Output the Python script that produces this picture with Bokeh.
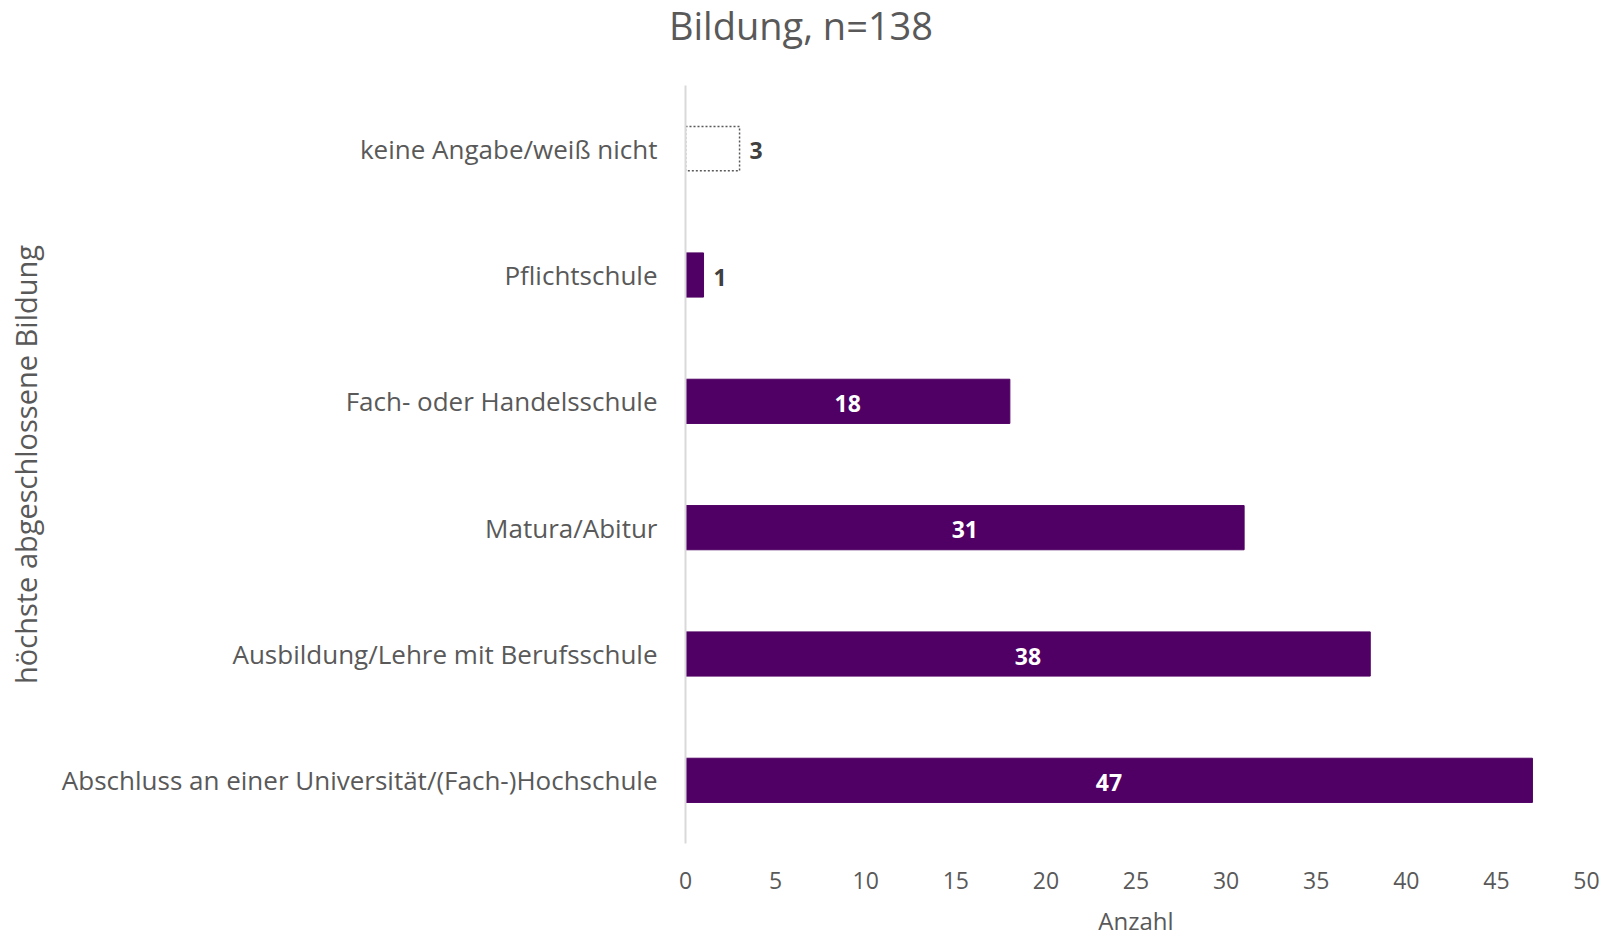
from bokeh.plotting import figure
from bokeh.models import FactorRange, Range1d, ColumnDataSource, Div
from bokeh.layouts import column
from bokeh.core.properties import value
from bokeh.embed import file_html
from bokeh.resources import INLINE

# ---- data ----
categories = [
    "keine Angabe/weiß nicht",
    "Pflichtschule",
    "Fach- oder Handelsschule",
    "Matura/Abitur",
    "Ausbildung/Lehre mit Berufsschule",
    "Abschluss an einer Universität/(Fach-)Hochschule",
]
counts = [3, 1, 18, 31, 38, 47]
unknown_flag = [True, False, False, False, False, False]
x_ticks = [0, 5, 10, 15, 20, 25, 30, 35, 40, 45, 50]

title_text = "Bildung, n=138"
x_label = "Anzahl"
y_label = "höchste abgeschlossene Bildung"

FONT = "Open Sans"
PURPLE = "#500064"
GRAY = "#595959"

factors = list(reversed(categories))

TITLE_H = 50

title_div = Div(text=title_text, width=1602, height=TITLE_H,
                styles={"text-align": "center", "font-family": FONT, "font-size": "38px",
                        "color": GRAY, "line-height": f"{TITLE_H}px", "margin": "0"})

p = figure(
    width=1602, height=940 - TITLE_H,
    y_range=FactorRange(*factors, range_padding=0),
    x_range=Range1d(0, 50),
    output_backend="svg", toolbar_location=None,
    min_border_left=685, min_border_right=16, min_border_top=85 - TITLE_H,
    min_border_bottom=97,
)
p.outline_line_color = None
p.xgrid.visible = False
p.ygrid.visible = False

solid = ColumnDataSource(dict(
    cat=[c for c, u in zip(categories, unknown_flag) if not u],
    val=[v for v, u in zip(counts, unknown_flag) if not u],
))
dotted = ColumnDataSource(dict(
    cat=[c for c, u in zip(categories, unknown_flag) if u],
    val=[v for v, u in zip(counts, unknown_flag) if u],
))

p.hbar(y="cat", left=0, right="val", height=0.35, source=solid,
       fill_color=PURPLE, line_color=PURPLE)
p.hbar(y="cat", left=0, right="val", height=0.35, source=dotted,
       fill_color="white", line_color=GRAY, line_dash="2 2", line_width=1.5)

# value labels
inside = ColumnDataSource(dict(
    cat=[c for c, v in zip(categories, counts) if v >= 10],
    x=[v / 2 for v in counts if v >= 10],
    txt=[str(v) for v in counts if v >= 10],
))
outside = ColumnDataSource(dict(
    cat=[c for c, v in zip(categories, counts) if v < 10],
    x=[v for v in counts if v < 10],
    txt=[str(v) for v in counts if v < 10],
))
p.text(x="x", y="cat", text="txt", source=inside, text_align="center",
       text_baseline="middle", text_color="white", text_font=value(FONT),
       text_font_style="bold", text_font_size="23px", y_offset=2)
p.text(x="x", y="cat", text="txt", source=outside, text_align="left",
       text_baseline="middle", text_color="#404040", text_font=value(FONT),
       text_font_style="bold", text_font_size="23px", x_offset=10, y_offset=2)

# axes
xa = p.xaxis[0]
xa.ticker = x_ticks
xa.axis_line_color = None
xa.major_tick_line_color = None
xa.minor_tick_line_color = None
xa.major_label_text_font = FONT
xa.major_label_text_font_size = "23px"
xa.major_label_text_color = GRAY
xa.major_label_standoff = 22
xa.axis_label = x_label
xa.axis_label_text_font = FONT
xa.axis_label_text_font_size = "24px"
xa.axis_label_text_font_style = "normal"
xa.axis_label_text_color = GRAY
xa.axis_label_standoff = 12

ya = p.yaxis[0]
ya.axis_line_color = "#d9d9d9"
ya.axis_line_width = 2
ya.major_tick_line_color = None
ya.minor_tick_line_color = None
ya.major_label_text_font = FONT
ya.major_label_text_font_size = "26px"
ya.major_label_text_color = GRAY
ya.major_label_standoff = 22
ya.axis_label = y_label
ya.axis_label_text_font = FONT
ya.axis_label_text_font_size = "29px"
ya.axis_label_text_font_style = "normal"
ya.axis_label_text_color = GRAY
ya.axis_label_standoff = 14

layout = column(title_div, p, spacing=0)
open("out.html", "w").write(file_html(layout, INLINE))
